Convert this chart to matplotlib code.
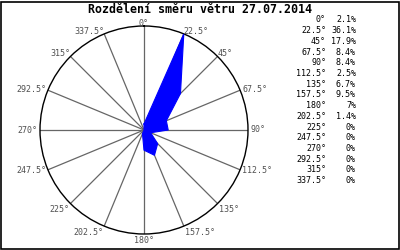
import numpy as np
import matplotlib
matplotlib.use("Agg")
import matplotlib.pyplot as plt
from matplotlib.patches import Rectangle

directions = [0, 22.5, 45, 67.5, 90, 112.5, 135, 157.5, 180, 202.5, 225, 247.5, 270, 292.5, 315, 337.5]
dir_labels = ["0°", "22.5°", "45°", "67.5°", "90°", "112.5°", "135°", "157.5°",
              "180°", "202.5°", "225°", "247.5°", "270°", "292.5°", "315°", "337.5°"]
values = [2.1, 36.1, 17.9, 8.4, 8.4, 2.5, 6.7, 9.5, 7, 1.4, 0, 0, 0, 0, 0, 0]
value_labels = ["2.1%", "36.1%", "17.9%", "8.4%", "8.4%", "2.5%", "6.7%", "9.5%",
                "7%", "1.4%", "0%", "0%", "0%", "0%", "0%", "0%"]
title = "Rozdělení směru větru 27.07.2014"

W, H = 400, 250
fig = plt.figure(figsize=(W / 100, H / 100), dpi=100)
fig.patch.set_facecolor("white")

# border
fig.patches.append(Rectangle((1 / W, 1.5 / H), 397.5 / W, 246.5 / H, transform=fig.transFigure,
                             fill=False, edgecolor="black", linewidth=1.2))

cx, cy, R = 144, 130, 104
ax = fig.add_axes([(cx - R) / W, (H - cy - R) / H, 2 * R / W, 2 * R / H], projection="polar")
ax.set_theta_zero_location("N")
ax.set_theta_direction(-1)
rmax = max(values)
ax.set_ylim(0, rmax)
ax.set_yticks([])
ax.set_xticks(np.deg2rad(directions))
ax.set_xticklabels([])
ax.tick_params(axis="x", length=0)
ax.grid(True, axis="x", color="#666666", linewidth=0.9)
ax.spines["polar"].set_color("black")
ax.spines["polar"].set_linewidth(1.0)
ax.set_facecolor("white")

th = np.deg2rad(directions + [directions[0]])
vv = values + [values[0]]
ax.fill(th, vv, color="#0000ff", linewidth=0, zorder=3)
ax.plot(th, vv, color="#0000ff", linewidth=0.8, zorder=3)

mono = "DejaVu Sans Mono"
for d, lab in zip(directions, dir_labels):
    s, c = np.sin(np.deg2rad(d)), np.cos(np.deg2rad(d))
    ha = "left" if s > 0.1 else ("right" if s < -0.1 else "center")
    if c > 0.5:
        va, rr = "baseline", 1.0
    elif c < -0.5:
        va, rr = "top", 1.02
    else:
        va, rr = "center", 1.02
    ax.text(np.deg2rad(d), rmax * rr, lab, ha=ha, va=va, fontsize=6,
            family=mono, color="#505050")

fig.text(0.5, 1 - 9.5 / H, title, ha="center", va="center", fontsize=8.4,
         family=mono, fontweight="bold", color="black")

for i, (lab, vl) in enumerate(zip(dir_labels, value_labels)):
    y = 1 - (20 + i * 10.7) / H
    fig.text(326 / W, y, lab, ha="right", va="center", fontsize=6, family=mono, color="black")
    fig.text(356 / W, y, vl, ha="right", va="center", fontsize=6, family=mono, color="black")

fig.savefig("out.png", dpi=100, facecolor="white")
